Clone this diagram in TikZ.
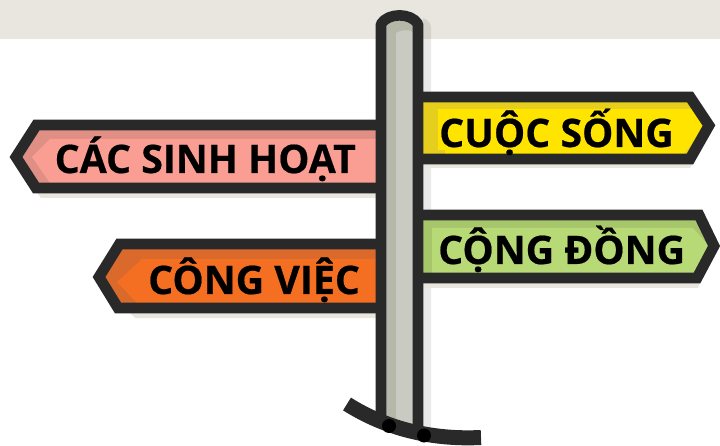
\documentclass[tikz,border=0pt]{standalone}
\usepackage{fontspec}
\setmainfont[FakeBold=0.5]{Open Sans}
\definecolor{band}{HTML}{E9E6DF}
\definecolor{ink}{HTML}{292929}
\definecolor{poleA}{HTML}{B5B7A9}
\definecolor{poleB}{HTML}{C9CBC3}
\definecolor{pinkA}{HTML}{E08F85}
\definecolor{pinkB}{HTML}{FA9E94}
\definecolor{yelA}{HTML}{E6CE1E}
\definecolor{yelB}{HTML}{FFE400}
\definecolor{grnA}{HTML}{A7C66B}
\definecolor{grnB}{HTML}{B8DA76}
\definecolor{orgA}{HTML}{D96A2B}
\definecolor{orgB}{HTML}{F46F22}
\tikzset{
  signframe/.style={draw=ink,line width=10.8pt,line join=miter,miter limit=4},
  signshadow/.style={fill=band,draw=none},
  signtext/.style={anchor=base west,inner sep=0pt,font=\bfseries\fontsize{39.3}{40}\selectfont,text=black}
}
\begin{document}
\begin{tikzpicture}[x=1pt,y=-1pt]
\useasboundingbox (0,0) rectangle (720,446);
\fill[band] (0,0) rectangle (720,39);
% pole shadow
\fill[black,opacity=0.085] (423,18) .. controls (428,20) and (431,23) .. (431,28) -- (431,432) -- (423,432) -- cycle;
% sign shadows
\fill[signshadow] (37,193) -- (376,193) -- (376,198) -- (41,198) -- cycle;
\fill[signshadow] (423,164) -- (693,164) -- (690,168) -- (423,168) -- cycle;
\fill[signshadow] (423,283) -- (700,283) -- (698,288) -- (423,288) -- cycle;
\fill[signshadow] (130,313) -- (376,313) -- (376,318) -- (135,318) -- cycle;
% pink sign
\fill[pinkA] (376,125) -- (36,125) -- (16,157) -- (36,188) -- (376,188) -- cycle;
\fill[pinkB] (376,139) -- (50,139) -- (32,157) -- (50,183) -- (376,183) -- cycle;
\draw[signframe] (376,125) -- (36.5,125) -- (16,157) -- (36,188) -- (376,188);
% yellow sign
\fill[yelA] (423,97) -- (690,97) -- (709,125.5) -- (690,159) -- (423,159) -- cycle;
\fill[yelB] (438,109) -- (692,109) -- (703,125.5) -- (690,146) -- (684,154) -- (445,154) -- (445,150) -- (438,150) -- cycle;
\draw[signframe] (423,97) -- (690,97) -- (709,125.5) -- (690,159) -- (423,159);
% green sign
\fill[grnA] (423,215) -- (699,215) -- (714,246) -- (697,278) -- (423,278) -- cycle;
\fill[grnB] (432,228) -- (693,228) -- (709,246) -- (694,273) -- (432,273) -- cycle;
\draw[signframe] (423,215) -- (699,215) -- (714,246) -- (697,278) -- (423,278);
% orange sign
\fill[orgA] (376,244) -- (119.5,244) -- (99,277) -- (118,308) -- (376,308) -- cycle;
\fill[orgB] (376,259) -- (142,259) -- (117,282) -- (137,303) -- (376,303) -- cycle;
\draw[signframe] (376,244) -- (119.5,244) -- (99,277) -- (118,308) -- (376,308);
% labels
\node[signtext] (pinklabel) at (54.5,173) {CÁC SINH HOẠT};
\node[signtext] (yellowlabel) at (439,147) {CUỘC SỐNG};
\node[signtext] (greenlabel) at (438,264) {CỘNG ĐỒNG};
\node[signtext] (orangelabel) at (148,294) {CÔNG VIỆC};
% pole
\fill[poleA] (386,24) .. controls (391,20) and (408,20) .. (413,24) -- (413,426) -- (386,417) -- cycle;
\fill[poleB] (396,33) .. controls (400,30) and (409,29) .. (413,32) -- (413,426) -- (396,421) -- cycle;
\draw[ink,line width=10.6pt,line join=round] (381,424) -- (381,24) .. controls (388,12.5) and (411,12.5) .. (418,24) -- (418,434);
% ground
\draw[ink,line width=15pt] (347,404) .. controls (385,428) and (430,440) .. (481,437.5);
\fill[black] (389,426) circle (7pt);
\fill[black] (424,435.5) circle (7pt);
\end{tikzpicture}
\end{document}
